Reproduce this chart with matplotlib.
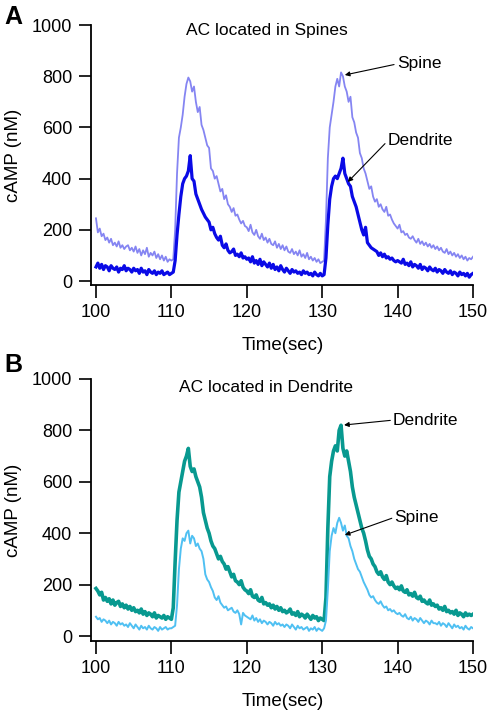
import matplotlib
matplotlib.use('Agg')
import matplotlib.pyplot as plt
import numpy as np

plt.rcParams['font.family'] = ['Liberation Sans', 'DejaVu Sans']

# sample times (0.25 s steps, 100 to 150 sec)
time_start, time_end, time_step = 100, 150, 0.25
time = np.arange(time_start, time_end + time_step / 2, time_step)

# Panel A: AC located in spines (cAMP, nM)
a_spine = [
    245, 190, 205, 175, 185, 160, 170, 150, 165, 140, 150, 135, 155, 130, 140, 125, 135, 140, 120, 130,
    115, 135, 110, 125, 100, 120, 105, 130, 95, 110, 100, 115, 90, 105, 85, 100, 80, 95, 75, 85,
    80, 85, 200, 420, 560, 600, 650, 720, 770, 795, 780, 740, 760, 700, 660, 680, 610, 590, 560, 530,
    520, 440, 430, 400, 410, 380, 350, 360, 320, 335, 300, 290, 270, 285, 255, 260, 240, 225, 235, 215,
    210, 195, 220, 190, 180, 200, 175, 165, 185, 160, 170, 150, 165, 145, 140, 155, 130, 145, 125, 140,
    120, 135, 115, 110, 125, 105, 115, 100, 120, 95, 105, 90, 110, 85, 95, 80, 90, 75, 85, 70,
    75, 80, 240, 480, 600, 650, 700, 760, 790, 760, 815, 800, 760, 740, 700, 720, 640, 620, 580, 560,
    500, 480, 440, 420, 390, 360, 370, 330, 310, 320, 290, 300, 280, 270, 290, 255, 260, 240, 225, 215,
    205, 220, 190, 195, 180, 185, 170, 165, 175, 160, 150, 165, 145, 155, 140, 150, 135, 145, 130, 140,
    125, 135, 120, 130, 115, 110, 125, 105, 115, 100, 110, 95, 105, 90, 100, 85, 95, 80, 90, 85,
    95,
]
a_dendrite = [
    55, 70, 50, 65, 45, 60, 55, 40, 60, 50, 45, 55, 35, 50, 45, 60, 40, 50, 45, 35,
    50, 40, 45, 30, 50, 35, 40, 25, 45, 35, 30, 40, 25, 35, 30, 40, 25, 30, 35, 25,
    30, 35, 80, 180, 260, 330, 380, 400, 410, 430, 490, 400, 390, 340, 320, 300, 280, 265, 250, 240,
    230, 200, 210, 185, 170, 160, 175, 140, 130, 145, 120, 110, 115, 125, 100, 105, 95, 110, 90, 95,
    85, 90, 75, 95, 70, 80, 65, 85, 60, 75, 65, 55, 70, 50, 65, 45, 55, 40, 60, 45,
    35, 50, 40, 30, 45, 35, 40, 30, 35, 25, 40, 30, 35, 25, 30, 20, 35, 25, 20, 30,
    20, 25, 90, 220, 320, 370, 400, 410, 400, 420, 440, 480, 420, 400, 380, 370, 330, 310, 290, 260,
    230, 200, 180, 210, 150, 140, 130, 125, 120, 115, 100, 110, 95, 105, 90, 95, 85, 90, 80, 75,
    80, 75, 70, 85, 65, 70, 60, 75, 55, 65, 60, 50, 65, 45, 55, 50, 40, 55, 45, 40,
    50, 35, 45, 40, 30, 45, 35, 30, 40, 25, 35, 30, 20, 35, 25, 30, 20, 30, 15, 25,
    30,
]

# Panel B: AC located in dendrite (cAMP, nM)
b_dendrite = [
    185, 175, 160, 170, 140, 150, 135, 145, 125, 140, 120, 130, 135, 115, 125, 110, 120, 105, 115, 100,
    110, 95, 100, 90, 105, 85, 95, 80, 90, 85, 75, 90, 70, 80, 75, 70, 80, 65, 75, 70,
    65, 110, 290, 450, 560, 600, 640, 680, 700, 730, 660, 640, 650, 620, 600, 580, 540, 480, 450, 420,
    400, 370, 350, 340, 320, 300, 310, 290, 280, 260, 270, 250, 230, 240, 215, 210, 200, 215, 190, 180,
    175, 165, 180, 155, 150, 160, 140, 135, 150, 125, 130, 120, 125, 110, 120, 105, 115, 100, 110, 95,
    100, 90, 95, 105, 85, 90, 80, 95, 75, 85, 80, 70, 85, 75, 65, 80, 70, 75, 60, 70,
    65, 60, 150, 420, 620, 680, 720, 740, 720, 800, 820, 730, 700, 720, 680, 640, 580, 540, 510, 480,
    450, 420, 400, 370, 335, 310, 300, 280, 270, 250, 240, 250, 230, 220, 235, 210, 200, 210, 195, 185,
    190, 180, 195, 175, 170, 180, 160, 165, 155, 170, 150, 145, 155, 135, 140, 130, 125, 140, 120, 125,
    115, 120, 105, 110, 100, 115, 95, 100, 90, 95, 85, 100, 80, 90, 85, 75, 90, 80, 85, 80,
    85,
]
b_spine = [
    75, 65, 70, 55, 65, 60, 50, 60, 45, 55, 50, 40, 55, 45, 50, 40, 45, 35, 50, 40,
    30, 45, 35, 25, 40, 30, 35, 25, 40, 30, 25, 35, 30, 20, 35, 25, 30, 35, 25, 30,
    30, 35, 40, 120, 260, 340, 380, 370, 400, 410, 360, 390, 380, 350, 360, 340, 330, 300, 240, 220,
    210, 190, 175, 150, 140, 155, 130, 120, 110, 115, 100, 105, 110, 95, 90, 100, 85, 45, 90, 80,
    75, 70, 65, 80, 60, 70, 55, 65, 50, 60, 55, 45, 55, 50, 40, 55, 45, 50, 40, 45,
    35, 45, 40, 30, 45, 35, 25, 40, 30, 35, 25, 30, 35, 20, 30, 25, 35, 20, 30, 25,
    20, 30, 60, 180, 330, 390, 420, 400, 440, 460, 440, 410, 430, 390, 380, 350, 330, 300, 280, 260,
    250, 230, 210, 195, 180, 160, 150, 155, 140, 130, 125, 135, 120, 110, 115, 100, 105, 95, 100, 90,
    85, 90, 80, 75, 85, 70, 65, 75, 60, 70, 65, 55, 70, 60, 50, 60, 55, 45, 60, 50,
    50, 45, 55, 40, 50, 45, 35, 50, 40, 30, 45, 35, 40, 30, 35, 25, 40, 30, 25, 35,
    30,
]

x_ticks = [100, 110, 120, 130, 140, 150]
y_ticks = [0, 200, 400, 600, 800, 1000]


def style_axes(ax, ybottom):
    ax.set_xlim(99.34, 150)
    ax.set_ylim(ybottom, 1000)
    ax.set_xticks(x_ticks)
    ax.set_yticks(y_ticks)
    for side in ['top', 'right']:
        ax.spines[side].set_visible(False)
    for side in ['left', 'bottom']:
        ax.spines[side].set_linewidth(1.3)
    ax.tick_params(direction='out', length=9, width=1.2, pad=4.5, labelsize=13)
    ax.set_xlabel('Time(sec)', fontsize=13.5)
    ax.set_ylabel('cAMP (nM)', fontsize=13.5)
    ax.xaxis.set_label_coords(0.503, -0.2, transform=ax.transAxes)
    ax.yaxis.set_label_coords(-0.18, 0.5, transform=ax.transAxes)


def arrow_label(ax, text, tip, text_pos):
    ax.annotate(text, xy=tip, xytext=text_pos, ha='left', va='center', fontsize=12.5,
                arrowprops=dict(arrowstyle='-|>', color='black', lw=0.8, mutation_scale=7,
                                shrinkA=0, shrinkB=0, relpos=(0, 0.5)))


fig = plt.figure(figsize=(4.94, 7.14), dpi=100)

# panel A
ax_a = fig.add_axes([0.1842, 0.6008, 0.7733, 0.3641])
ax_a.plot(time, a_spine, color='#8585f2', lw=1.3)
ax_a.plot(time, a_dendrite, color='#0a0ae6', lw=2.3)
style_axes(ax_a, -15.6)
ax_a.text(0.461, 0.981, 'AC located in Spines', transform=ax_a.transAxes,
          ha='center', va='center', fontsize=12.5)
arrow_label(ax_a, 'Spine', (133.0, 805), (139.9, 848))
arrow_label(ax_a, 'Dendrite', (133.4, 387), (138.7, 548))

# panel B
ax_b = fig.add_axes([0.1842, 0.1022, 0.7733, 0.3670])
ax_b.plot(time, b_dendrite, color='#089990', lw=2.6)
ax_b.plot(time, b_spine, color='#4fc0f2', lw=1.4)
style_axes(ax_b, -19.5)
ax_b.text(0.458, 0.966, 'AC located in Dendrite', transform=ax_b.transAxes,
          ha='center', va='center', fontsize=12.5)
arrow_label(ax_b, 'Dendrite', (132.9, 821), (139.4, 840))
arrow_label(ax_b, 'Spine', (133.0, 393), (139.6, 462))

fig.text(4 / 494, 1 - 17 / 714, 'A', fontsize=18, fontweight='bold', ha='left', va='center')
fig.text(4 / 494, 1 - 365 / 714, 'B', fontsize=18, fontweight='bold', ha='left', va='center')

fig.savefig('out.png', dpi=100)
